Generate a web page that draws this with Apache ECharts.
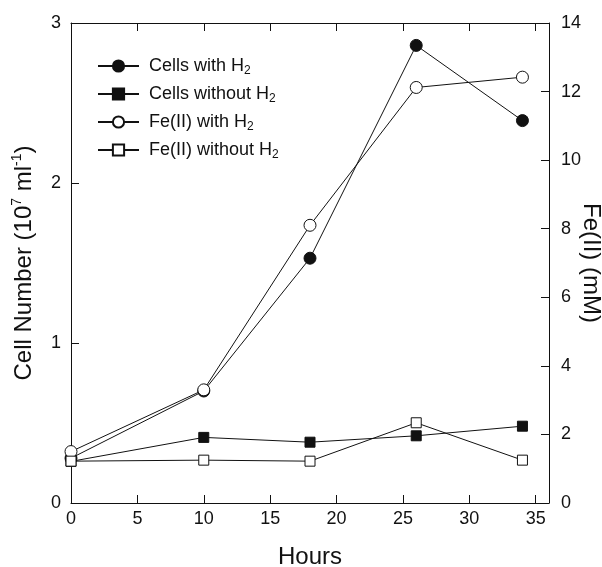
<!DOCTYPE html>
<html>
<head>
<meta charset="utf-8">
<script src="https://cdn.jsdelivr.net/npm/echarts@6/dist/echarts.min.js"></script>
<style>
html,body{margin:0;padding:0;background:#fff;}
#chart{width:602px;height:567px;}
</style>
</head>
<body>
<div id="chart"></div>
<script>
// hours of sampling
var hours = [0, 10, 18, 26, 34];
// cell numbers (10^7 per ml), left axis
var cellsWithH2 = [0.28, 0.70, 1.53, 2.86, 2.39];
var cellsWithoutH2 = [0.26, 0.41, 0.38, 0.42, 0.48];
// Fe(II) mM, right axis
var feWithH2 = [1.50, 3.30, 8.10, 12.12, 12.42];
var feWithoutH2 = [1.22, 1.25, 1.22, 2.34, 1.25];

var legendNames = ['Cells with H2', 'Cells without H2', 'Fe(II) with H2', 'Fe(II) without H2'];

function pairs(ys){
	var arr = [];
	for(var i = 0; i < hours.length; i++){
		arr.push([hours[i], ys[i]]);
	}
	return arr;
}

var chart = echarts.init(document.getElementById('chart'));
var font = 'Liberation Sans, Arial, sans-serif';
var ink = '#111';

function mkSeries(name, ys, symbol, filled, yIdx, size){
	return {
		name: name,
		type: 'line',
		xAxisIndex: 0,
		yAxisIndex: yIdx,
		data: pairs(ys),
		symbol: symbol,
		symbolSize: size,
		showAllSymbol: true,
		lineStyle: {color: ink, width: 1},
		itemStyle: {color: filled ? ink : '#fff', borderColor: ink, borderWidth: 1, opacity: 1},
		emphasis: {disabled: true},
		animation: false
	};
}

var axisBase = {
	nameMoveOverlap: false,
	axisLine: {show: true, onZero: false, lineStyle: {color: ink, width: 1}},
	axisTick: {show: true, inside: true, length: 8, lineStyle: {color: ink}},
	splitLine: {show: false}
};

var option = {
	animation: false,
	grid: {left: 71, right: 53, top: 23, bottom: 64, containLabel: false, outerBoundsMode: 'none'},
	legend: {
		orient: 'vertical',
		left: 92,
		top: 50,
		itemWidth: 41,
		itemHeight: 14,
		itemGap: 6,
		data: legendNames,
		formatter: function(n){ return n.replace('H2', 'H{sub|2}'); },
		textStyle: {
			fontFamily: font, fontSize: 18, lineHeight: 22, color: ink, padding: [0, 0, 0, 5],
			rich: {sub: {fontFamily: font, fontSize: 12, lineHeight: 8, color: ink, verticalAlign: 'bottom'}}
		}
	},
	xAxis: [
		Object.assign({}, axisBase, {
			type: 'value', position: 'bottom', min: 0, max: 36, interval: 5,
			name: 'Hours', nameLocation: 'middle', nameGap: 40,
			nameTextStyle: {fontFamily: font, fontSize: 24, lineHeight: 28, color: ink},
			axisLabel: {
				fontFamily: font, fontSize: 18, color: ink, margin: 7,
				formatter: function(v){ return v % 5 === 0 ? String(v) : ''; }
			}
		}),
		Object.assign({}, axisBase, {
			type: 'value', position: 'top', min: 0, max: 36, interval: 5,
			axisLabel: {show: false}
		})
	],
	yAxis: [
		Object.assign({}, axisBase, {
			type: 'value', position: 'left', min: 0, max: 3, interval: 1,
			name: 'Cell Number (10{sup|7} ml{sup|-1})', nameLocation: 'middle', nameGap: 33, nameRotate: 90,
			nameTextStyle: {
				fontFamily: font, fontSize: 24, lineHeight: 28, color: ink,
				rich: {sup: {fontFamily: font, fontSize: 14, lineHeight: 12, color: ink, verticalAlign: 'top'}}
			},
			axisLabel: {fontFamily: font, fontSize: 18, color: ink, margin: 10}
		}),
		Object.assign({}, axisBase, {
			type: 'value', position: 'right', min: 0, max: 14, interval: 2,
			name: 'Fe(II) (mM)', nameLocation: 'middle', nameGap: 28, nameRotate: -90,
			nameTextStyle: {fontFamily: font, fontSize: 24, lineHeight: 28, color: ink},
			axisLabel: {fontFamily: font, fontSize: 18, color: ink, margin: 12}
		})
	],
	series: [
		mkSeries(legendNames[0], cellsWithH2, 'circle', true, 0, 12),
		mkSeries(legendNames[1], cellsWithoutH2, 'rect', true, 0, 10),
		mkSeries(legendNames[2], feWithH2, 'circle', false, 1, 12),
		mkSeries(legendNames[3], feWithoutH2, 'rect', false, 1, 10)
	]
};
chart.setOption(option);
</script>
</body>
</html>
